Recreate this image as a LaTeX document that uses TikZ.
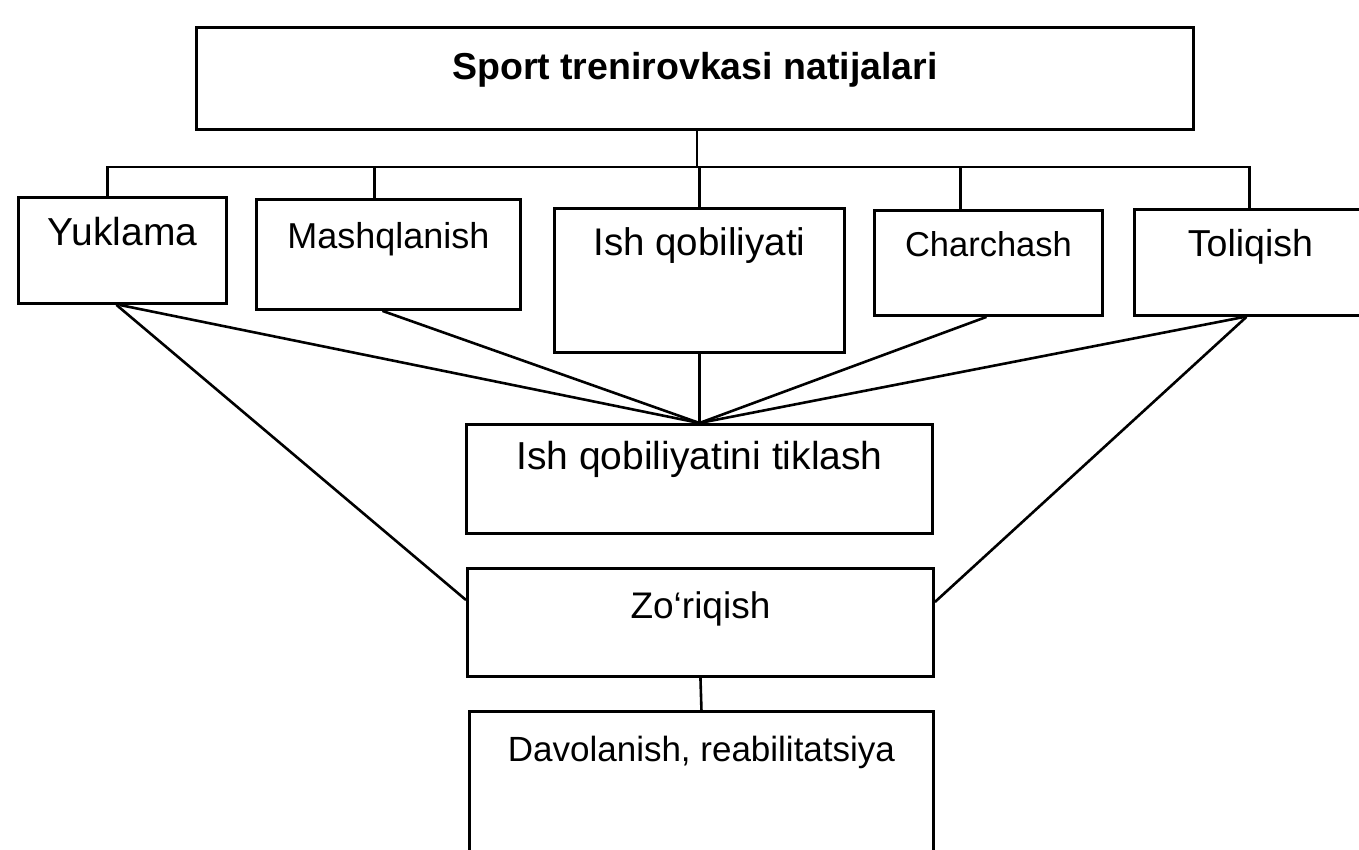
\documentclass[tikz,border=0pt]{standalone}
\usepackage{fontspec}
\setsansfont{Liberation Sans}

\begin{document}
\begin{tikzpicture}[
  x=1pt,y=-1pt,
  base/.style={draw=black,line width=2.9pt,inner sep=0pt,anchor=north west,
    font=\sffamily\fontsize{37}{40}\selectfont,text height=47pt},
  fs/.style={font=\sffamily\fontsize{#1}{40}\selectfont},
  head/.style={base,font=\sffamily\bfseries\fontsize{37.5}{42}\selectfont,text height=52pt},
  link/.style={draw=black,line width=2.6pt}
]
\useasboundingbox (0,0) rectangle (1359,849);
\clip (0,0) rectangle (1359,849);

% Title and the five results of training.
\node[head,minimum width=997pt,text depth=50pt] (title) at (195,26) {Sport trenirovkasi natijalari};
\node[base,fs=39,minimum width=208pt,text height=48pt,text depth=58pt] (yuk) at (17,196) {Yuklama};
\node[base,fs=36,minimum width=264pt,text height=49pt,text depth=61pt] (mash) at (255,198) {Mashqlanish};
\node[base,fs=38.5,minimum width=290pt,text depth=97pt] (ish) at (553,207) {Ish qobiliyati};
\node[base,fs=34.5,minimum width=228pt,text height=46pt,text depth=59pt] (charch) at (873,209) {Charchash};
\node[base,fs=37.5,minimum width=232pt,text depth=59pt] (tol) at (1133,208) {Toliqish};

% Lower column.
\node[base,fs=39,minimum width=466pt,text height=45pt,text depth=64pt] (tik) at (465,423) {Ish qobiliyatini tiklash};
\node[base,minimum width=466pt,text height=50pt,text depth=58pt] (zor) at (466,567) {Zo‘riqish};
\node[base,fs=35,minimum width=464pt,text height=50pt,text depth=110pt] (dav) at (468,710) {Davolanish, reabilitatsiya};

% Bus from the title down to the five boxes.
\coordinate (bus) at (697,167);
\draw[link] (bus |- title.south) -- (bus);
\draw[link] ([xshift=-15pt]yuk.north) |- (bus) -| ([xshift=-1pt]tol.north);
\draw[link] ([xshift=-14pt]mash.north) -- ([xshift=-14pt]mash.north |- bus);
\draw[link] (ish.north) -- (ish.north |- bus);
\draw[link] ([xshift=-28pt]charch.north) -- ([xshift=-28pt]charch.north |- bus);

% Everything meets on top of the recovery box.
\draw[link] ([xshift=-3pt]yuk.south) -- (tik.north);
\draw[link] ([xshift=-6pt]mash.south) -- (tik.north);
\draw[link] (ish.south) -- (tik.north);
\draw[link] ([xshift=-2pt]charch.south) -- (tik.north);
\draw[link] ([xshift=-6pt]tol.south) -- (tik.north);
\draw[link] ([xshift=-6pt]yuk.south) -- ([yshift=-33pt]zor.north west);
\draw[link] ([xshift=-4pt]tol.south) -- ([yshift=-35pt]zor.north east);
\draw[link] (zor.south) -- (dav.north);
\end{tikzpicture}
\end{document}
